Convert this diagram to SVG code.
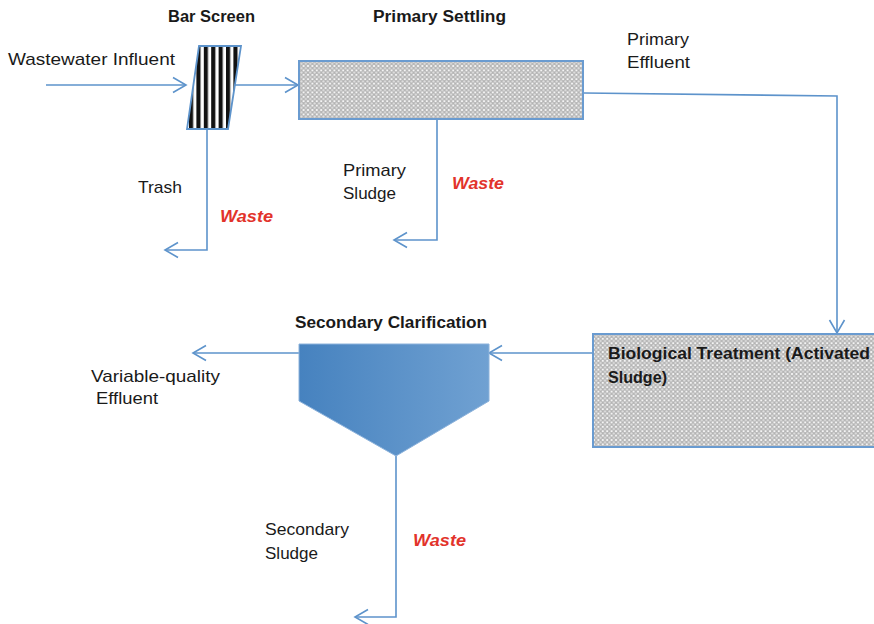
<svg xmlns="http://www.w3.org/2000/svg" width="874" height="624" viewBox="0 0 874 624">
<style>
.t{font-family:"Liberation Sans",Arial,sans-serif;font-size:17px;fill:#1a1a1a}
.b{font-family:"Liberation Sans",Arial,sans-serif;font-size:16px;font-weight:bold;fill:#1a1a1a}
.w{font-family:"Liberation Sans",Arial,sans-serif;font-size:17px;font-weight:bold;font-style:italic;fill:#e2332b}
.ln{fill:none;stroke:#5d93cb;stroke-width:1.6}
.arr{marker-end:url(#ah)}
.box{fill:url(#hatch);stroke:#6a9bd0;stroke-width:2}
</style>
<defs>
<marker id="ah" markerUnits="userSpaceOnUse" markerWidth="16" markerHeight="18" viewBox="0 0 16 18" refX="14" refY="9" orient="auto">
<path d="M1,1.5 L14,9 L1,16.5" fill="none" stroke="#5d93cb" stroke-width="1.6"/>
</marker>
<pattern id="hatch" patternUnits="userSpaceOnUse" width="4.4" height="4.4">
<rect width="4.4" height="4.4" fill="#b2b2b2"/>
<circle cx="0" cy="0" r="1.2" fill="#f4f4f4"/>
<circle cx="4.4" cy="0" r="1.2" fill="#f4f4f4"/>
<circle cx="0" cy="4.4" r="1.2" fill="#f4f4f4"/>
<circle cx="4.4" cy="4.4" r="1.2" fill="#f4f4f4"/>
<circle cx="2.2" cy="2.2" r="1.1" fill="#e2e2e2"/>
</pattern>
<pattern id="bars" patternUnits="userSpaceOnUse" x="189" y="0" width="7.4" height="10">
<rect width="7.4" height="10" fill="#ffffff"/>
<rect x="0" width="3.8" height="10" fill="#111"/>
<rect x="3.8" width="0.9" height="10" fill="#888"/>
</pattern>
<linearGradient id="clar" x1="0" y1="0" x2="1" y2="0">
<stop offset="0" stop-color="#4682bf"/>
<stop offset="1" stop-color="#70a1d2"/>
</linearGradient>
</defs>

<g id="connectors">
<path class="ln arr" d="M46,85 H186"/>
<path class="ln arr" d="M235,85 H298"/>
<path class="ln arr" d="M207,129 V250 H165"/>
<path class="ln arr" d="M437,119 V240 H394"/>
<path class="ln arr" d="M584,93 L837,96 V333"/>
<path class="ln arr" d="M593,353 H489"/>
<path class="ln arr" d="M299,353 H193"/>
<path class="ln arr" d="M396,456 V617 H355"/>
</g>

<g id="bar-screen">
<polygon points="199,46 241,46 228,129 187,129" fill="url(#bars)" stroke="#5d93cb" stroke-width="1.8"/>
<text class="b" x="168" y="22" textLength="87" lengthAdjust="spacingAndGlyphs">Bar Screen</text>
</g>

<g id="primary-settling">
<rect class="box" x="299" y="61" width="284" height="58"/>
<text class="b" x="373" y="22" textLength="133" lengthAdjust="spacingAndGlyphs">Primary Settling</text>
</g>

<g id="biological-treatment">
<rect class="box" x="593" y="334" width="290" height="113"/>
<text class="b" x="608" y="359" textLength="262" lengthAdjust="spacingAndGlyphs">Biological Treatment (Activated</text>
<text class="b" x="608" y="383" textLength="59" lengthAdjust="spacingAndGlyphs">Sludge)</text>
</g>

<g id="secondary-clarification">
<polygon points="299,344 489,344 489,401 396,456 299,401" fill="url(#clar)" stroke="#8cb2db" stroke-width="1"/>
<text class="b" x="295" y="328" textLength="192" lengthAdjust="spacingAndGlyphs">Secondary Clarification</text>
</g>

<g id="labels">
<text class="t" x="8" y="65" textLength="167" lengthAdjust="spacingAndGlyphs">Wastewater Influent</text>
<text class="t" x="627" y="45" textLength="62" lengthAdjust="spacingAndGlyphs">Primary</text>
<text class="t" x="627" y="68" textLength="63" lengthAdjust="spacingAndGlyphs">Effluent</text>
<text class="t" x="138" y="193" textLength="44" lengthAdjust="spacingAndGlyphs">Trash</text>
<text class="w" x="220" y="222" textLength="53" lengthAdjust="spacingAndGlyphs">Waste</text>
<text class="t" x="343" y="176" textLength="63" lengthAdjust="spacingAndGlyphs">Primary</text>
<text class="t" x="343" y="199" textLength="53" lengthAdjust="spacingAndGlyphs">Sludge</text>
<text class="w" x="452" y="189" textLength="52" lengthAdjust="spacingAndGlyphs">Waste</text>
<text class="t" x="91" y="382" textLength="129" lengthAdjust="spacingAndGlyphs">Variable-quality</text>
<text class="t" x="96" y="404" textLength="62" lengthAdjust="spacingAndGlyphs">Effluent</text>
<text class="t" x="265" y="535" textLength="84" lengthAdjust="spacingAndGlyphs">Secondary</text>
<text class="t" x="265" y="559" textLength="53" lengthAdjust="spacingAndGlyphs">Sludge</text>
<text class="w" x="413" y="546" textLength="53" lengthAdjust="spacingAndGlyphs">Waste</text>
</g>
</svg>
